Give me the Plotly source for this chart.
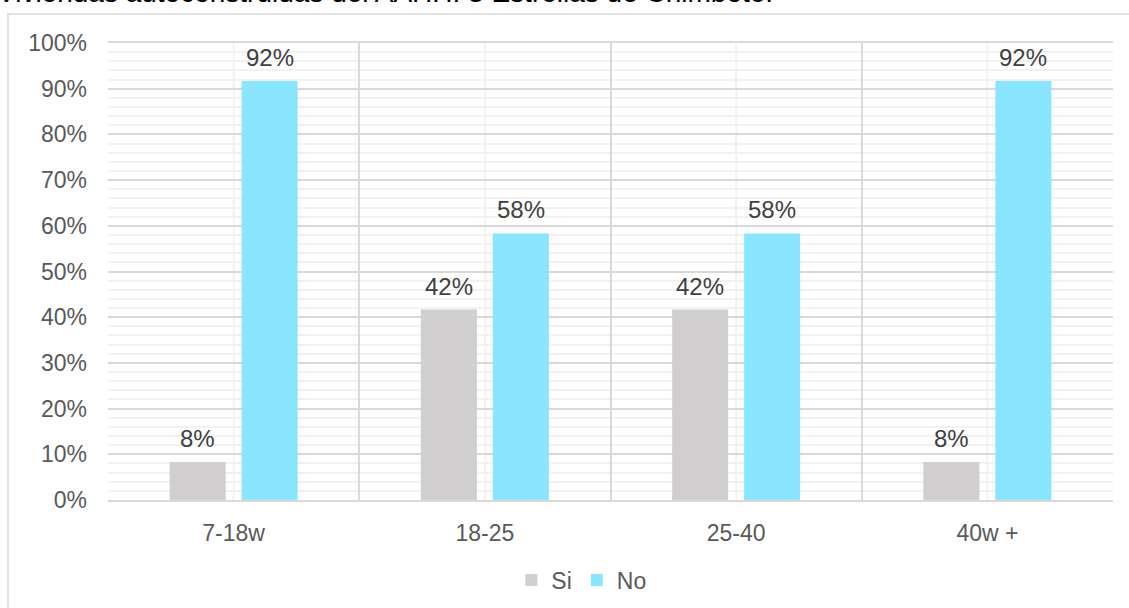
import plotly.graph_objects as go

# Survey results by age of the self-built dwellings
categories = ["7-18w", "18-25", "25-40", "40w +"]
si_values = [8.33, 41.67, 41.67, 8.33]
no_values = [91.67, 58.33, 58.33, 91.67]
y_ticks = list(range(0, 101, 10))
y_tick_labels = [f"{v}%" for v in y_ticks]
title_text = "Viviendas autoconstruidas del AAHH. 3 Estrellas de Chimbote."

FONT = "Liberation Sans, Arial, sans-serif"
GRAY = "#d0cece"
CYAN = "#89e6fe"

fig = go.Figure()
fig.add_trace(go.Bar(name="Si", x=categories, y=si_values, marker_color=GRAY,
                     marker_line_width=0))
fig.add_trace(go.Bar(name="No", x=categories, y=no_values, marker_color=CYAN,
                     marker_line_width=0))

# value labels above each bar
annotations = []
for series, shift in ((si_values, -36), (no_values, 36)):
    for cat, val in zip(categories, series):
        annotations.append(dict(
            x=cat, y=val, xref="x", yref="y", text=f"{val:.0f}%",
            showarrow=False, xshift=shift, yshift=8, yanchor="bottom",
            font=dict(family=FONT, size=24, color="#404040")))

annotations.append(dict(
    x=-0.112, y=1.073, xref="paper", yref="paper", text=title_text,
    showarrow=False, xanchor="left", yanchor="bottom",
    font=dict(family=FONT, size=28, color="#000000")))

shapes = [
    # chart area frame
    dict(type="rect", xref="paper", yref="paper", x0=-0.0995, x1=1.2,
         y0=-0.4, y1=1.0635, line=dict(color="#d9d9d9", width=1.5),
         layer="below"),
]
# light lines through each category centre
for cat in categories:
    shapes.append(dict(type="line", xref="x", yref="paper", x0=cat, x1=cat,
                       y0=0, y1=1, line=dict(color="#f2f2f2", width=2),
                       layer="below"))

fig.update_layout(
    width=1129, height=608,
    margin=dict(l=108, r=16, t=43, b=108, autoexpand=False),
    paper_bgcolor="white", plot_bgcolor="white",
    barmode="group", bargap=0.427, bargroupgap=0.222,
    font=dict(family=FONT, color="#595959"),
    showlegend=True,
    legend=dict(orientation="h", x=0.471, xanchor="center", y=-0.175,
                yanchor="middle", font=dict(family=FONT, size=23, color="#595959"),
                itemwidth=30, traceorder="normal"),
    annotations=annotations,
    shapes=shapes,
    xaxis=dict(
        type="category", tickson="boundaries", showgrid=True,
        gridcolor="#d9d9d9", gridwidth=1.5, ticks="", showline=True,
        linecolor="#d9d9d9", linewidth=1.5, mirror=True, automargin=False,
        tickfont=dict(family=FONT, size=23, color="#595959"),
        ticklabelstandoff=12,
    ),
    yaxis=dict(
        range=[0, 100], tickmode="array", tickvals=y_ticks,
        ticktext=y_tick_labels, automargin=False,
        showgrid=True, gridcolor="#d9d9d9", gridwidth=1.5,
        minor=dict(dtick=2, showgrid=True, gridcolor="#f2f2f2", gridwidth=1.5),
        zeroline=False, showline=False, ticks="",
        tickfont=dict(family=FONT, size=23, color="#595959"),
        ticklabelstandoff=20,
    ),
)

fig.write_html("out.html")
